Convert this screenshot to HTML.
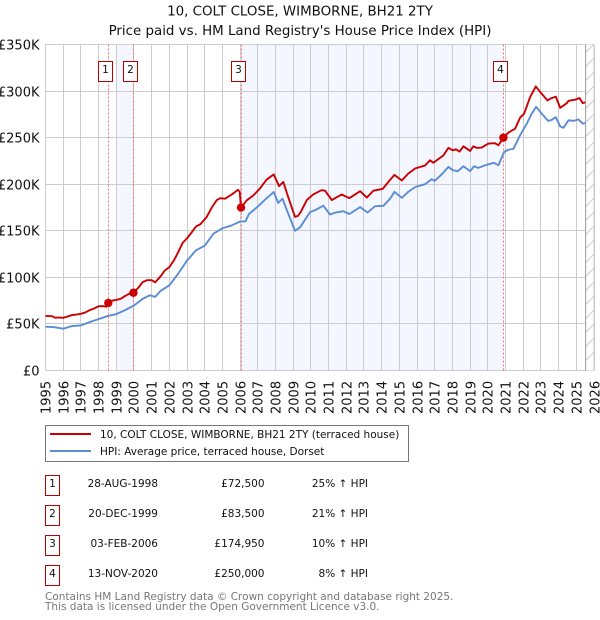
<!DOCTYPE html>
<html>
<head>
<meta charset="utf-8">
<title>10, COLT CLOSE, WIMBORNE, BH21 2TY</title>
<style>
html,body{margin:0;padding:0;background:#fff;}
svg{display:block;font-family:"DejaVu Sans","Liberation Sans",sans-serif;}
text{fill:#111;}
</style>
</head>
<body>
<svg id="chart" width="600" height="620" viewBox="0 0 600 620" xmlns="http://www.w3.org/2000/svg">
  <text x="300" y="15.5" text-anchor="middle" font-size="13.4">10, COLT CLOSE, WIMBORNE, BH21 2TY</text>
  <text x="300" y="35" text-anchor="middle" font-size="13.4">Price paid vs. HM Land Registry's House Price Index (HPI)</text>
  <g id="bands"></g>
  <g id="grid"></g>
  <g id="hatch"></g>
  <g id="vlines"></g>
  <g id="series"></g>
  <g id="markers"></g>
  <g id="yticks"></g>
  <g id="xticks"></g>

  <g>
    <rect x="45.5" y="425.5" width="363" height="36" fill="#fff" stroke="#777" stroke-width="1"/>
    <line x1="50" x2="91" y1="434" y2="434" stroke="#cc0000" stroke-width="2"/>
    <text x="100" y="438" font-size="10.5">10, COLT CLOSE, WIMBORNE, BH21 2TY (terraced house)</text>
    <line x1="50" x2="91" y1="451" y2="451" stroke="#5b8dd6" stroke-width="2"/>
    <text x="100" y="455" font-size="10.5">HPI: Average price, terraced house, Dorset</text>
  </g>

  <g font-size="10.5">
    <rect x="45.5" y="475.5" width="14" height="20" fill="#fff" stroke="#bb0000"/>
    <text x="52.5" y="487" text-anchor="middle">1</text>
    <text x="158" y="487" text-anchor="end">28-AUG-1998</text>
    <text x="264.5" y="487" text-anchor="end">£72,500</text>
    <text x="368" y="487" text-anchor="end">25% ↑ HPI</text>

    <rect x="45.5" y="505.5" width="14" height="20" fill="#fff" stroke="#bb0000"/>
    <text x="52.5" y="517" text-anchor="middle">2</text>
    <text x="158" y="517" text-anchor="end">20-DEC-1999</text>
    <text x="264.5" y="517" text-anchor="end">£83,500</text>
    <text x="368" y="517" text-anchor="end">21% ↑ HPI</text>

    <rect x="45.5" y="535.5" width="14" height="20" fill="#fff" stroke="#bb0000"/>
    <text x="52.5" y="547" text-anchor="middle">3</text>
    <text x="158" y="547" text-anchor="end">03-FEB-2006</text>
    <text x="264.5" y="547" text-anchor="end">£174,950</text>
    <text x="368" y="547" text-anchor="end">10% ↑ HPI</text>

    <rect x="45.5" y="565.5" width="14" height="20" fill="#fff" stroke="#bb0000"/>
    <text x="52.5" y="577" text-anchor="middle">4</text>
    <text x="158" y="577" text-anchor="end">13-NOV-2020</text>
    <text x="264.5" y="577" text-anchor="end">£250,000</text>
    <text x="368" y="577" text-anchor="end">8% ↑ HPI</text>
  </g>

  <text x="45" y="600" font-size="10.5" style="fill:#777">Contains HM Land Registry data © Crown copyright and database right 2025.</text>
  <text x="45" y="610" font-size="10.5" style="fill:#777">This data is licensed under the Open Government Licence v3.0.</text>
</svg>
<script>
const yearTicks = [1995,1996,1997,1998,1999,2000,2001,2002,2003,2004,2005,2006,2007,2008,2009,2010,2011,2012,2013,2014,2015,2016,2017,2018,2019,2020,2021,2022,2023,2024,2025,2026];
const priceTicks = [0,50000,100000,150000,200000,250000,300000,350000];
const priceTickLabels = ['£0','£50K','£100K','£150K','£200K','£250K','£300K','£350K'];

const paidDates = [1995,1995.25,1995.4,1995.55,1995.75,1996,1996.25,1996.5,1996.75,1997,1997.25,1997.5,1997.75,1998,1998.25,1998.45,1998.55,1998.75,1999,1999.25,1999.5,1999.75,1999.97,2000.25,2000.5,2000.75,2001,2001.2,2001.5,2001.75,2002,2002.25,2002.5,2002.75,2003,2003.25,2003.5,2003.75,2004.1,2004.4,2004.68,2004.87,2005.15,2005.6,2005.88,2005.98,2006.05,2006.37,2006.75,2007.1,2007.5,2007.9,2008.2,2008.44,2008.72,2009.1,2009.27,2009.45,2009.77,2010.13,2010.6,2010.8,2011.18,2011.4,2011.74,2012.17,2012.78,2013.16,2013.53,2014.06,2014.38,2014.72,2015.14,2015.5,2015.9,2016.45,2016.73,2016.92,2017.49,2017.77,2018.02,2018.2,2018.4,2018.62,2019,2019.18,2019.37,2019.65,2020.03,2020.4,2020.6,2020.88,2021.16,2021.54,2021.82,2022.05,2022.39,2022.71,2023,2023.37,2023.55,2023.84,2024.09,2024.46,2024.56,2024.93,2025.18,2025.37,2025.5];
const paidValues = [58.4,58.4,58.2,56.6,57,56.6,58,59.5,60,60.9,62.3,64.8,66.6,69,69,68.5,72.5,75,75.8,77,80,82.6,83.5,89,95,97,97,94.7,101,107.5,111,118,127,137,142,148,154.5,157,164.5,175,183,185,184.4,190,194,191.7,175,182.6,188,195,205,210.5,198,202.5,186,165,166,171,183,189,193.6,193,183,185.4,189,185,192.5,185.7,193,195,202.5,210,204,211.4,217,220,225.7,223,231,239,236.4,237.5,235,240.7,235.7,240.7,239,239.3,243.6,244,241.8,250,255.4,259.6,271.4,275.7,293.6,305,298,290,292,294,282,287,289.6,290.7,292.5,287,288];

const hpiDates = [1995,1995.5,1996,1996.5,1997,1997.5,1998,1998.55,1999,1999.5,2000,2000.5,2000.9,2001.2,2001.5,2002,2002.5,2003,2003.5,2004,2004.5,2005,2005.5,2006,2006.3,2006.5,2007,2007.5,2007.9,2008.15,2008.4,2008.65,2009.1,2009.4,2009.95,2010.33,2010.7,2011.08,2011.4,2011.83,2012.17,2012.78,2013.2,2013.63,2014.1,2014.48,2014.72,2015.14,2015.5,2015.9,2016.45,2016.83,2017,2017.4,2017.77,2018.02,2018.3,2018.62,2019,2019.22,2019.45,2019.86,2020.33,2020.6,2020.92,2021.16,2021.45,2021.82,2022.2,2022.48,2022.73,2023.05,2023.42,2023.6,2023.84,2024.09,2024.28,2024.56,2024.85,2025.12,2025.37,2025.5];
const hpiValues = [47,46.5,44.9,47.7,48.4,52,55.2,58.7,60.5,64.8,69.8,77,80.8,79,85.4,91.5,104,118,129,134,147,152.7,155.6,160,160,168,176,185,191.7,180,184.4,171.7,150,154,170,173,177,167.5,169.6,171,168,175.4,169.6,176.4,176.8,184.6,191.8,185.4,191.8,197,200,205.4,203.6,210.7,218.6,215,214,219.3,214,219.3,217.5,220.4,223,220.4,234.6,237,238,252.5,265,275.7,283,275.7,267.9,269,272,262,260.7,268.6,268,269.6,265,265.7];

const saleDates = [1998.55,1999.97,2006.05,2020.88];
const salePrices = [72.5,83.5,174.95,250];
const saleLabels = ['1','2','3','4'];
const bandStarts = [1999,2006.05];
const bandEnds = [1999.97,2020.88];
const dataEndDate = 2025.5;

const NS = 'http://www.w3.org/2000/svg';
const plotLeft = 45.5, plotRight = 594, plotTop = 44.5, plotBottom = 370.5;
const xScale = function (year) { return plotLeft + (year - 1995) * (plotRight - plotLeft) / 31; };
const yScale = function (price) { return plotBottom - price * (plotBottom - plotTop) / 350000; };
const snap = function (v) { return Math.round(v - 0.5) + 0.5; };
const make = function (tag, parentId, attrs) {
  const el = document.createElementNS(NS, tag);
  for (const k in attrs) el.setAttribute(k, attrs[k]);
  document.getElementById(parentId).appendChild(el);
  return el;
};

bandStarts.forEach(function (start, i) {
  const band = make('rect', 'bands', {x: xScale(start), y: plotTop, width: xScale(bandEnds[i]) - xScale(start), height: plotBottom - plotTop, fill: '#f4f7ff'});
  
  
});

yearTicks.forEach(function (year) {
  const x = snap(xScale(year));
  const line = make('line', 'grid', {x1: x, x2: x, y1: plotTop, y2: plotBottom, stroke: '#cccccc', 'stroke-width': 1});
  
  
  const label = make('text', 'xticks', {transform: 'translate(' + (x + 5) + ',414) rotate(-90)', 'font-size': 13});
  label.textContent = year;
  
  
});

priceTicks.forEach(function (price, i) {
  const y = snap(yScale(price));
  const line = make('line', 'grid', {x1: plotLeft, x2: plotRight, y1: y, y2: y, stroke: '#cccccc', 'stroke-width': 1});
  
  
  const label = make('text', 'yticks', {x: 39.5, y: y + 5, 'text-anchor': 'end', 'font-size': 13});
  label.textContent = priceTickLabels[i];
  
  
});

const hatchLeft = xScale(dataEndDate) + 0.5;
const hatchBg = make('rect', 'hatch', {x: hatchLeft, y: plotTop, width: plotRight - hatchLeft, height: plotBottom - plotTop, fill: '#fff'});


for (let hy = plotTop + 8; hy <= plotBottom + 1; hy += 14) {
  const h = make('line', 'hatch', {x1: hatchLeft, x2: plotRight, y1: hy, y2: hy - (plotRight - hatchLeft), stroke: '#cccccc', 'stroke-width': 1});
  
  
}
const edge = make('line', 'hatch', {x1: hatchLeft, x2: hatchLeft, y1: plotTop, y2: plotBottom, stroke: '#999', 'stroke-width': 1});


const rightEdge = make('line', 'hatch', {x1: plotRight, x2: plotRight, y1: plotTop, y2: plotBottom, stroke: '#cccccc', 'stroke-width': 1});



saleDates.forEach(function (date) {
  const x = snap(xScale(date));
  const v = make('line', 'vlines', {x1: x, x2: x, y1: plotTop, y2: plotBottom, stroke: '#ff6f6f', 'stroke-width': 1, 'stroke-dasharray': '2,2'});
  
  
});

const toPath = function (dates, values) {
  return dates.map(function (d, i) {
    return (i ? 'L' : 'M') + xScale(d).toFixed(2) + ' ' + yScale(values[i] * 1000).toFixed(2);
  }).join('');
};
const hpiLine = make('path', 'series', {d: toPath(hpiDates, hpiValues), fill: 'none', stroke: '#5b8dd6', 'stroke-width': 1.9, 'stroke-linejoin': 'round'});


const paidLine = make('path', 'series', {d: toPath(paidDates, paidValues), fill: 'none', stroke: '#cc0000', 'stroke-width': 1.9, 'stroke-linejoin': 'round'});



saleDates.forEach(function (date, i) {
  const x = xScale(date);
  const dot = make('circle', 'markers', {cx: x, cy: yScale(salePrices[i] * 1000), r: 4.2, fill: '#cc0000'});
  
  
  const box = make('rect', 'markers', {x: snap(x) - 10, y: 61.5, width: 14, height: 20, fill: '#fff', stroke: '#bb0000', 'stroke-width': 1});
  
  
  const t = make('text', 'markers', {x: snap(x) - 3, y: 73, 'text-anchor': 'middle', 'font-size': 10.5});
  t.textContent = saleLabels[i];
  
  
});
</script>
</body>
</html>
